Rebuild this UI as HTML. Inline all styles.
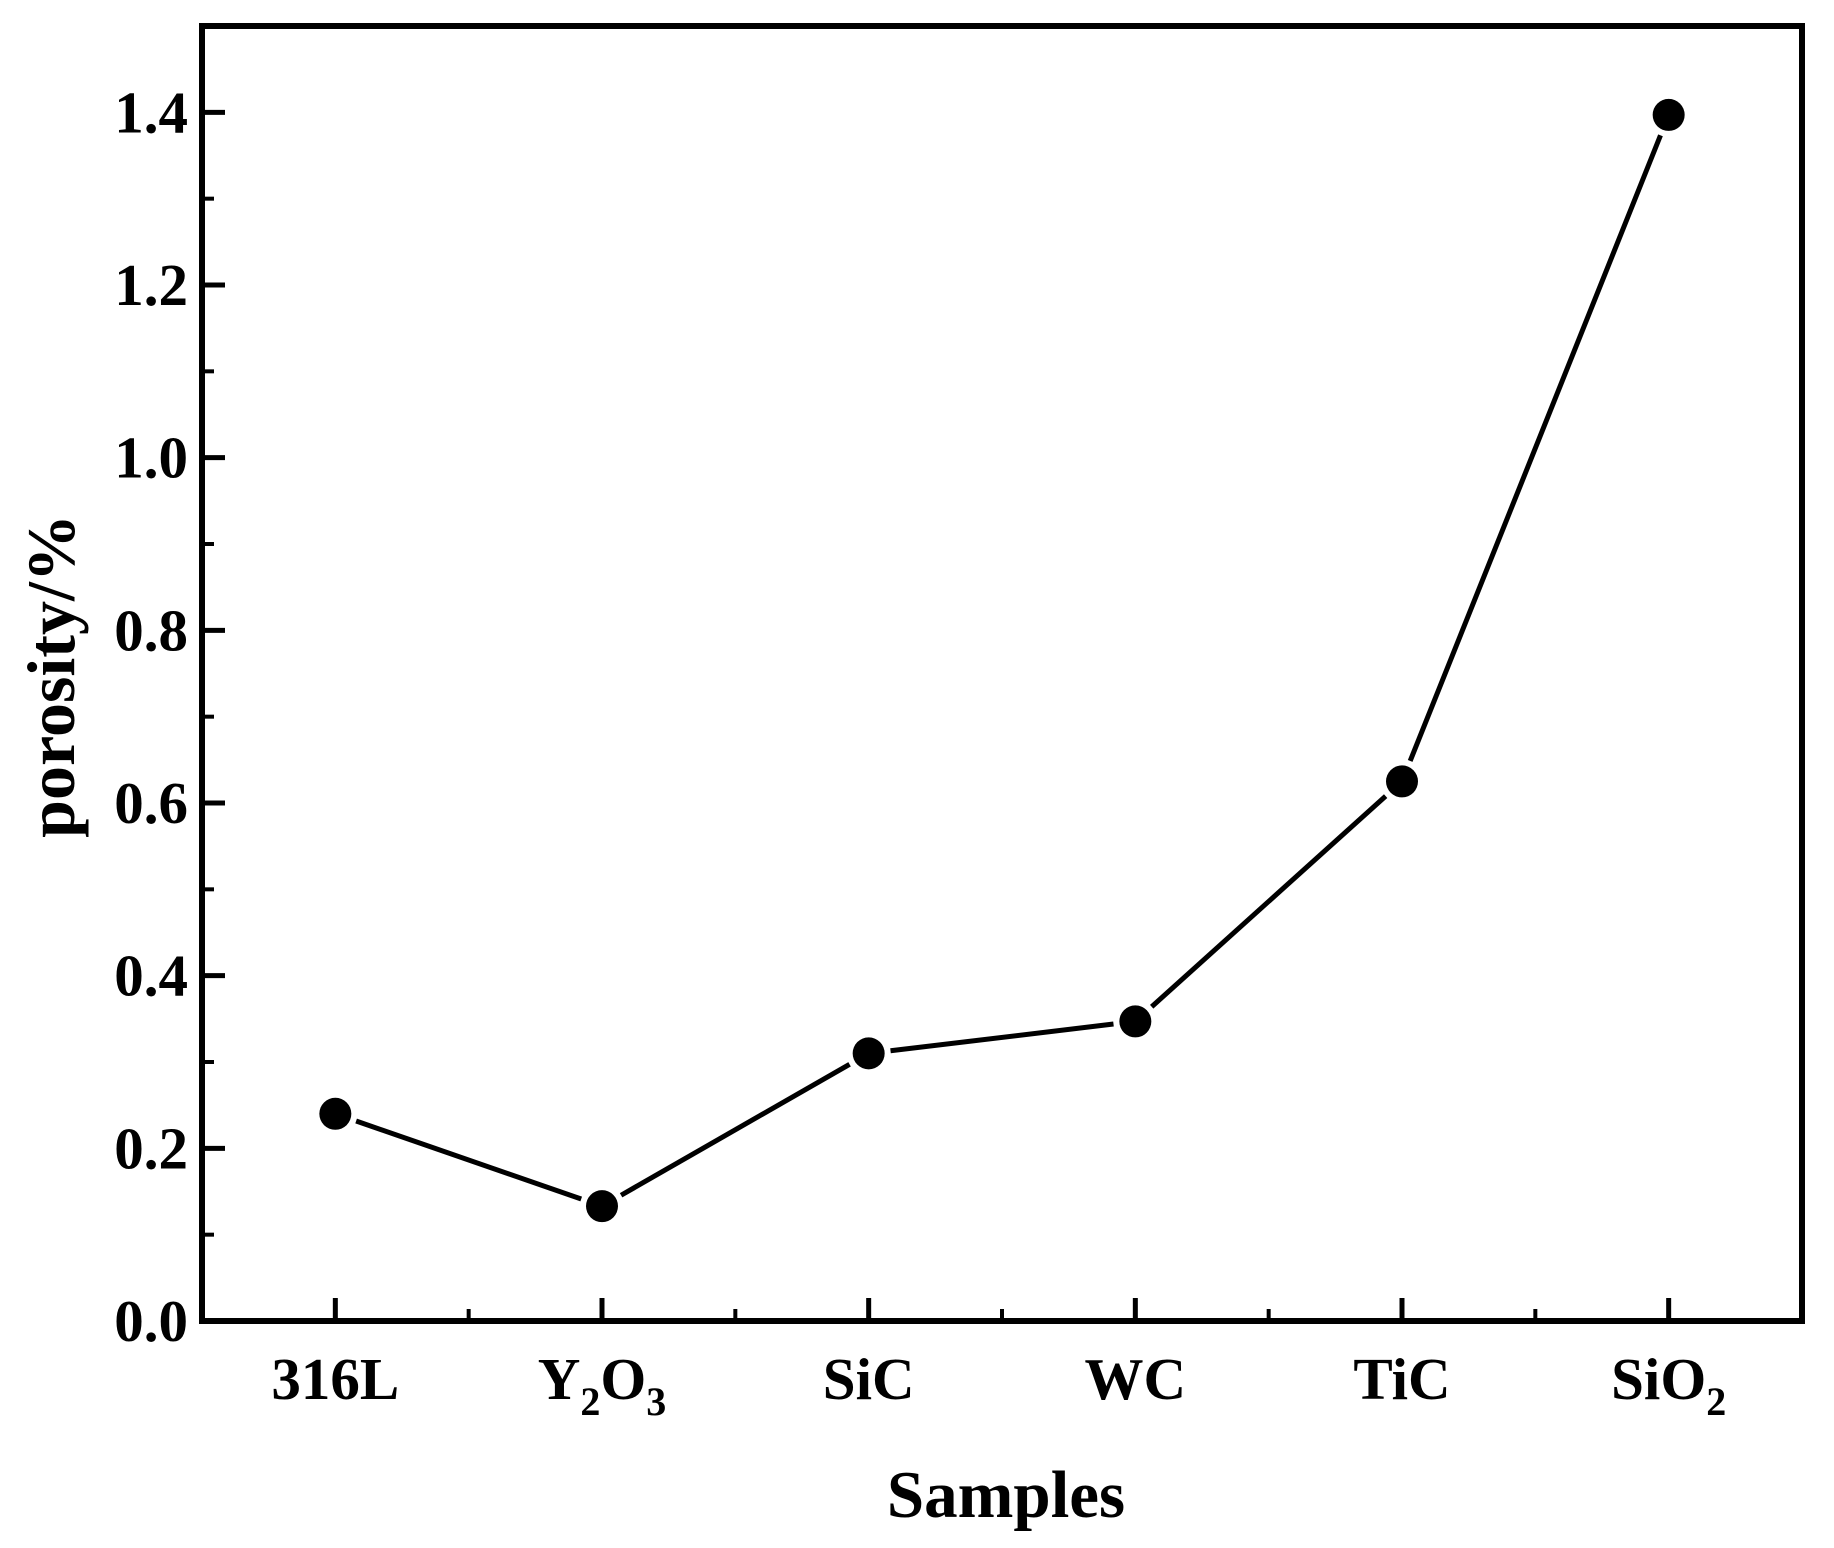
<!DOCTYPE html>
<html><head><meta charset="utf-8"><style>
html,body{margin:0;padding:0;background:#fff}
svg{display:block}
text{font-family:"Liberation Serif",serif;font-weight:bold;fill:#000}
</style></head><body>
<svg id="chart" width="1834" height="1548" viewBox="0 0 1834 1548">
<g id="plot"></g>
</svg>
<script>
const categories = ["316L","Y2O3","SiC","WC","TiC","SiO2"];
const porosity = [0.24, 0.133, 0.31, 0.347, 0.625, 1.397];
const yTicks = [0.0,0.2,0.4,0.6,0.8,1.0,1.2,1.4];
const yTickLabels = ["0.0","0.2","0.4","0.6","0.8","1.0","1.2","1.4"];
const L=202,R=1802,T=26,B=1321;
const xMin=-0.5,xMax=5.5,yMin=0,yMax=1.5;
const xs=i=>L+(i-xMin)/(xMax-xMin)*(R-L);
const ys=v=>B-(v-yMin)/(yMax-yMin)*(B-T);
const NS="http://www.w3.org/2000/svg";
const g=document.getElementById('plot');
function mk(t,a,p){const e=document.createElementNS(NS,t);for(const k in a)e.setAttribute(k,a[k]);(p||g).appendChild(e);return e;}
const fr=mk('rect',{x:L,y:T,width:R-L,height:B-T,fill:'none',stroke:'#000','stroke-width':6});


yTicks.forEach((v,i)=>{
  const y=ys(v);
  const t=mk('line',{x1:L,x2:L+23,y1:y,y2:y,stroke:'#000','stroke-width':5});
  
  
  const lb=mk('text',{x:188,y:y+20,'text-anchor':'end','font-size':59});
  lb.textContent=yTickLabels[i];
  
  
  if(i<yTicks.length-1){const ym=ys(v+0.1);
    const m=mk('line',{x1:L,x2:L+12,y1:ym,y2:ym,stroke:'#000','stroke-width':4});
    
    }
});
const labelHTML={"316L":["316L"],"Y2O3":["Y",["2"],"O",["3"]],"SiC":["SiC"],"WC":["WC"],"TiC":["TiC"],"SiO2":["SiO",["2"]]};
categories.forEach((c,i)=>{
  const x=xs(i);
  const t=mk('line',{x1:x,x2:x,y1:B,y2:B-23,stroke:'#000','stroke-width':5});
  
  
  if(i<categories.length-1){const xm=xs(i+0.5);
    const m=mk('line',{x1:xm,x2:xm,y1:B,y2:B-12,stroke:'#000','stroke-width':4});
    
    }
  const lb=mk('text',{x:x,y:1399,'text-anchor':'middle','font-size':59});
  
  
  labelHTML[c].forEach(p=>{
    const s=document.createElementNS(NS,'tspan');
    if(Array.isArray(p)){s.textContent=p[0];s.setAttribute('font-size','40');s.setAttribute('dy','16');}
    else{s.textContent=p;if(lb.childNodes.length)s.setAttribute('dy','-16');}
    lb.appendChild(s);
  });
});
for(let i=0;i<porosity.length-1;i++){
  const x1=xs(i),y1=ys(porosity[i]),x2=xs(i+1),y2=ys(porosity[i+1]);
  const dx=x2-x1,dy=y2-y1,d=Math.hypot(dx,dy),g2=22;
  const s=mk('line',{x1:x1+dx/d*g2,y1:y1+dy/d*g2,x2:x2-dx/d*g2,y2:y2-dy/d*g2,stroke:'#000','stroke-width':5});
  
  
}
porosity.forEach((v,i)=>{
  const c=mk('circle',{cx:xs(i),cy:ys(v),r:16,fill:'#000'});
  
  
});
const xt=mk('text',{x:1006,y:1517,'text-anchor':'middle','font-size':67});
xt.textContent='Samples';


const yt=mk('text',{x:0,y:0,'text-anchor':'middle','font-size':68,transform:'translate(74,676) rotate(-90)'});
yt.textContent='porosity/%';


</script>
</body></html>
